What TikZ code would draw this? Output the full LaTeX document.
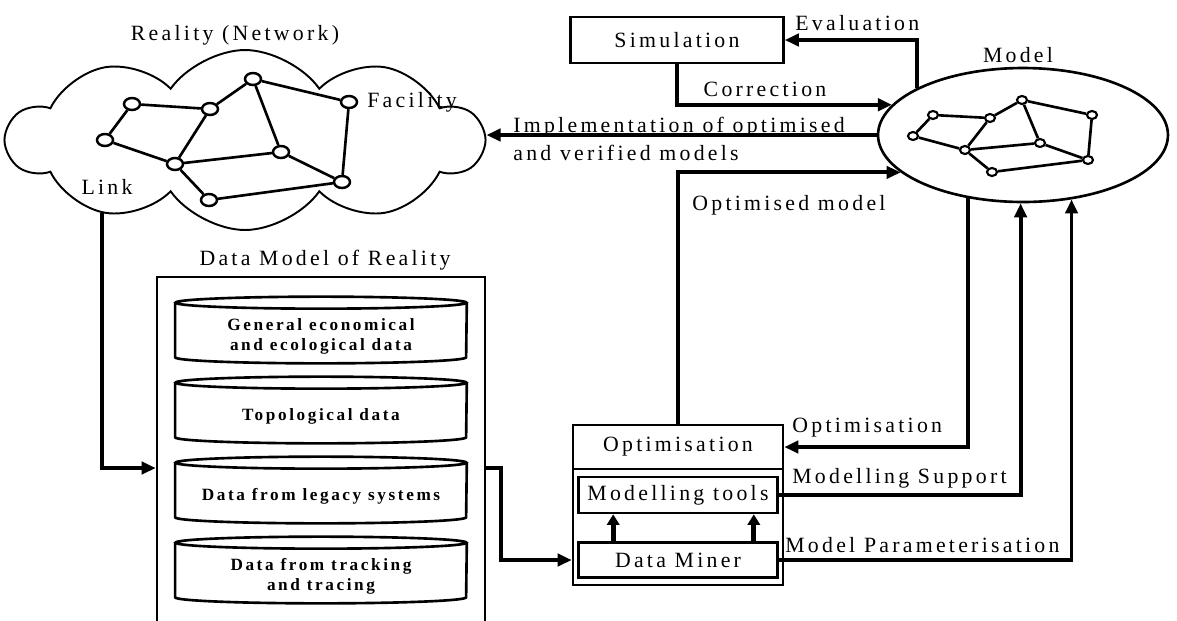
\documentclass[tikz,border=0pt]{standalone}
\usepackage{fontspec}
\setmainfont{Liberation Serif}[LetterSpace=15]
\usetikzlibrary{arrows.meta,shapes.geometric,shapes.symbols}

\tikzset{
    lbl/.style={inner sep=0pt, font=\fontsize{12.4}{16}\selectfont},
    dbtext/.style={inner sep=0pt, minimum width=5.82cm, minimum height=1.08cm, align=center,
        font=\fontsize{9.8}{11.4}\selectfont\bfseries},
    dbline/.style={line width=1.5pt},
    box/.style={draw, line width=1.5pt, inner sep=0pt, font=\fontsize{12.4}{16}\selectfont},
    conn/.style={line width=2.2pt, -{Triangle[length=8pt,width=7pt]}},
    netnode/.style={draw, ellipse, fill=white, line width=1.4pt, inner sep=0pt,
        minimum width=0.32cm, minimum height=0.24cm},
    smallnode/.style={netnode, line width=1.2pt, minimum width=0.2cm, minimum height=0.16cm},
    netedge/.style={line width=1.5pt}
}

\begin{document}
\begin{tikzpicture}[x=0.02cm, y=-0.02cm]
    \useasboundingbox (0,0) rectangle (1177,620);
    \clip (0,0) rectangle (1177,620);

    % reality cloud with its network
    \node[cloud, draw, line width=1.1pt, cloud puffs=10, cloud puff arc=110, cloud ignores aspect,
        minimum width=9.5cm, minimum height=3.6cm] (reality) at (245,140) {};
    \node[lbl] (realitylbl) at (235,35) {Reality (Network)};
    \foreach \n/\x/\y in {1/132/104, 2/210/109, 3/253/79, 4/349/102, 5/105/140,
                          6/175/164, 7/281/152, 8/342/182, 9/209/200}
        \node[netnode] (c\n) at (\x,\y) {};
    \foreach \a/\b in {1/2,1/5,2/3,2/6,3/4,3/7,4/8,5/6,6/7,6/9,7/8,8/9}
        \draw[netedge] (c\a) -- (c\b);
    \node[lbl, anchor=west] (faclbl) at ([xshift=5pt]c4.east) {Facility};
    \node[lbl] (linklbl) at (107,187) {Link};

    % model
    \node[box, ellipse, minimum width=5.8cm, minimum height=2.68cm] (model) at (1023,135) {};
    \node[lbl] (modellbl) at (1018,55) {Model};
    \foreach \n/\x/\y in {1/933/115, 2/990/118, 3/1022/100, 4/1092/115, 5/913/136,
                          6/965/150, 7/1040/143, 8/1088/160, 9/992/172}
        \node[smallnode] (m\n) at (\x,\y) {};
    \foreach \a/\b in {1/2,1/5,2/3,2/6,3/4,3/7,4/8,5/6,6/7,6/9,7/8,8/9}
        \draw[netedge] (m\a) -- (m\b);

    % simulation loop
    \node[box, minimum width=4.26cm, minimum height=0.92cm] (sim) at (677,40) {Simulation};
    \draw[conn] (model.156) |- (sim.east);
    \node[lbl, anchor=west] (evallbl) at (795,23) {Evaluation};
    \draw[conn] (sim.south) |- (model.167.5);
    \node[lbl] (corrlbl) at (765,89) {Correction};

    \draw[conn] (model.west) -- (model.west -| reality.east);
    \node[lbl, anchor=west, align=left] (impllbl) at (513,139)
        {Implementation of optimised\\and verified models};

    % data model of reality
    \node[box, minimum width=6.56cm, minimum height=7.64cm] (datamodel) at (321,468) {};
    \node[lbl] (datalbl) at (325,260) {Data Model of Reality};
    \foreach \n/\ypos/\txt in {1/336/{General economical\\and ecological data},
                               2/416/{Topological data},
                               3/496/{Data from legacy systems},
                               4/576/{Data from tracking\\and tracing}} {
        \node[dbtext] (cyl\n) at (321,\ypos) {\txt};
        \draw[dbline] ([yshift=0.12cm]cyl\n.north) ellipse[x radius=2.91cm, y radius=0.12cm];
        \draw[dbline] ([yshift=0.12cm]cyl\n.north west) -- ([yshift=0.12cm]cyl\n.south west)
            arc[start angle=180, end angle=360, x radius=2.91cm, y radius=0.12cm]
            -- ([yshift=0.12cm]cyl\n.north east);
    }
    \draw[conn] (reality.-153) |- (datamodel.west);

    % optimisation block
    \node[box, minimum width=4.2cm, minimum height=3.2cm] (optbox) at (678,505) {};
    \node[box, minimum width=4.2cm, minimum height=0.88cm] (opthead) at (678,447) {Optimisation};
    \node[box, minimum width=3.98cm, minimum height=0.72cm] (mtools) at (678,495) {Modelling tools};
    \node[box, minimum width=3.98cm, minimum height=0.7cm] (dminer) at (678,560) {Data Miner};
    \draw[line width=3pt, -{Triangle[length=6pt,width=7pt]}]
        ([xshift=0.72cm]dminer.north west) -- ([xshift=0.72cm]mtools.south west);
    \draw[line width=3pt, -{Triangle[length=6pt,width=7pt]}]
        ([xshift=-0.5cm]dminer.north east) -- ([xshift=-0.5cm]mtools.south east);
    \draw[conn] (datamodel.east) -- ++(15,0) |- (dminer.west -| optbox.west);

    % links between model and optimisation
    \draw[conn] (opthead.north) |- (model.-163);
    \node[lbl, anchor=west] (optmodlbl) at (692,205) {Optimised model};
    \draw[conn] (model.-131) |- (opthead.east);
    \node[lbl, anchor=west] (optlbl) at (792,428) {Optimisation};
    \draw[conn] (mtools.east) -| (model.-92);
    \node[lbl, anchor=west] (supplbl) at (792,478) {Modelling Support};
    \draw[conn] (dminer.east) -| (model.-53.5);
    \node[lbl, anchor=west] (paramlbl) at (785,545) {Model Parameterisation};

\end{tikzpicture}
\end{document}
